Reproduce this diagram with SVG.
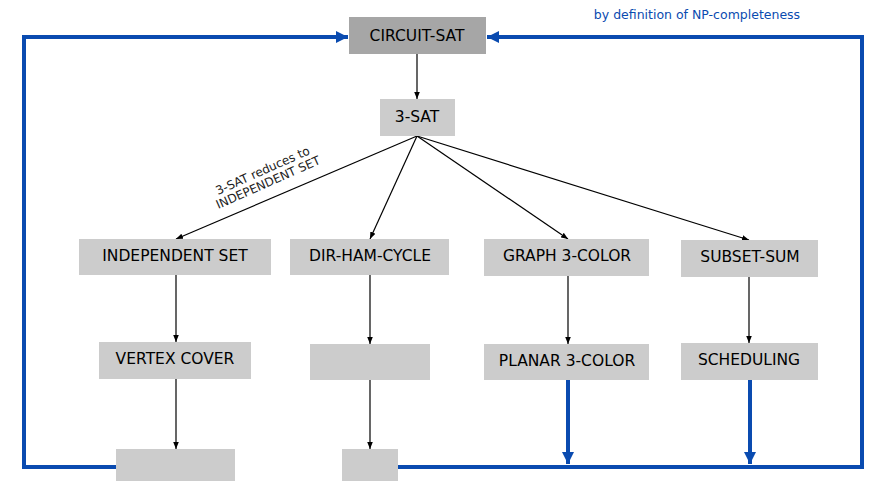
<svg xmlns="http://www.w3.org/2000/svg" width="883" height="481" viewBox="0 0 883 481">
<defs>
<style>
.node{fill:#cccccc;}
.dark{fill:#a6a6a6;}
.lbl{font-family:"DejaVu Sans","Liberation Sans",sans-serif;font-size:15.5px;fill:#000;text-anchor:middle;dominant-baseline:central;}
.blk{stroke:#000;stroke-width:1.2;fill:none;marker-end:url(#ah);}
.blue{stroke:#0a4bb0;stroke-width:4;fill:none;}
.note{font-family:"DejaVu Sans","Liberation Sans",sans-serif;font-size:12px;fill:#222;}
</style>
<marker id="ah" viewBox="0 0 10 10" refX="10" refY="5" markerWidth="7" markerHeight="7" markerUnits="userSpaceOnUse" orient="auto"><path d="M0,1 L10,5 L0,9 z" fill="#000"/></marker>
<marker id="bh" viewBox="0 0 10 10" refX="10" refY="5" markerWidth="3" markerHeight="3" orient="auto"><path d="M0,0 L10,5 L0,10 z" fill="#0a4bb0"/></marker>
</defs>
<rect width="883" height="481" fill="#fff"/>
<g id="connectors">
<path class="blue" d="M116,467 H24 V37 H348" marker-end="url(#bh)"/>
<path class="blue" d="M398,467 H862 V37 H487" marker-end="url(#bh)"/>
<path class="blue" d="M568,380 V464" marker-end="url(#bh)"/>
<path class="blue" d="M750,380 V464" marker-end="url(#bh)"/>
<line class="blk" x1="417" y1="54" x2="417" y2="99"/>
<line class="blk" x1="417" y1="136" x2="176" y2="239"/>
<line class="blk" x1="417" y1="136" x2="370" y2="239"/>
<line class="blk" x1="417" y1="136" x2="568" y2="239"/>
<line class="blk" x1="417" y1="136" x2="749" y2="240"/>
<line class="blk" x1="176" y1="275" x2="176" y2="342"/>
<line class="blk" x1="370" y1="275" x2="370" y2="344"/>
<line class="blk" x1="568" y1="276" x2="568" y2="344"/>
<line class="blk" x1="749" y1="277" x2="749" y2="343"/>
<line class="blk" x1="176" y1="379" x2="176" y2="449"/>
<line class="blk" x1="370" y1="380" x2="370" y2="449"/>
<g transform="translate(266,178) rotate(-24)">
<text class="note" x="0" y="-4" text-anchor="middle">3-SAT reduces to</text>
<text class="note" x="0" y="9" text-anchor="middle">INDEPENDENT SET</text>
</g>
<text x="697" y="19" font-family="'DejaVu Sans','Liberation Sans',sans-serif" font-size="12.5" fill="#0a4bb0" text-anchor="middle">by definition of NP-completeness</text>
</g>
<g id="circuit-sat"><rect class="dark" x="349" y="17" width="137" height="37"/><text class="lbl" x="417" y="36">CIRCUIT-SAT</text></g>
<g id="three-sat"><rect class="node" x="380" y="99" width="75" height="37"/><text class="lbl" x="417" y="117">3-SAT</text></g>
<g id="independent-set"><rect class="node" x="79" y="239" width="192" height="36"/><text class="lbl" x="175" y="256">INDEPENDENT SET</text></g>
<g id="dir-ham-cycle"><rect class="node" x="290" y="239" width="159" height="36"/><text class="lbl" x="370" y="256">DIR-HAM-CYCLE</text></g>
<g id="graph-3-color"><rect class="node" x="484" y="239" width="165" height="37"/><text class="lbl" x="567" y="256">GRAPH 3-COLOR</text></g>
<g id="subset-sum"><rect class="node" x="681" y="240" width="137" height="37"/><text class="lbl" x="750" y="257">SUBSET-SUM</text></g>
<g id="vertex-cover"><rect class="node" x="99" y="342" width="152" height="37"/><text class="lbl" x="175" y="359">VERTEX COVER</text></g>
<g id="empty-1"><rect class="node" x="310" y="344" width="120" height="36"/></g>
<g id="planar-3-color"><rect class="node" x="484" y="344" width="165" height="36"/><text class="lbl" x="567" y="361">PLANAR 3-COLOR</text></g>
<g id="scheduling"><rect class="node" x="681" y="343" width="137" height="37"/><text class="lbl" x="749" y="360">SCHEDULING</text></g>
<g id="empty-2"><rect class="node" x="116" y="449" width="119" height="32"/></g>
<g id="empty-3"><rect class="node" x="342" y="449" width="56" height="32"/></g>
</svg>
